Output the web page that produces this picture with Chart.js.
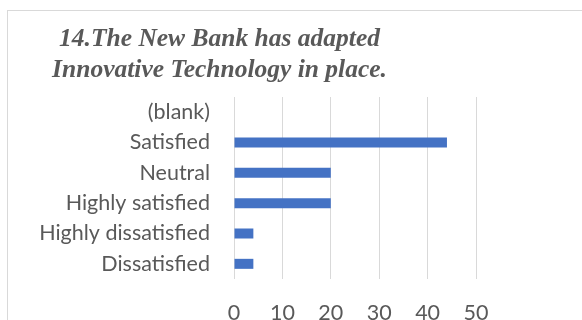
<!DOCTYPE html>
<html>
<head>
<meta charset="utf-8">
<script src="https://cdn.jsdelivr.net/npm/chart.js@4"></script>
<style>
  html, body { margin: 0; padding: 0; background: #fff; }
  #frame {
    position: absolute; left: 7px; top: 10px;
    width: 640px; height: 360px;
    border: 1px solid #d9d9d9;
  }
  #wrap { position: absolute; left: 0; top: 0; width: 582px; height: 320px; }
</style>
</head>
<body>
<div id="frame"></div>
<div id="wrap"><canvas id="barChart" width="582" height="320"></canvas></div>
<script>
// survey answers, top row first
const categories = ['(blank)', 'Satisfied', 'Neutral', 'Highly satisfied', 'Highly dissatisfied', 'Dissatisfied'];
const responses = [0, 44, 20, 20, 4, 4];
const xTicks = [0, 10, 20, 30, 40, 50];
const titleLines = ['14.The New Bank has adapted', 'Innovative Technology in place.'];

const textGrey = '#595959';
const labelFont = { family: 'Lato', size: 21.5 };

// Word-style title, centred over the left part of the frame
const titleText = {
    id: 'titleText',
    afterDraw(chart) {
        const ctx = chart.ctx;
        ctx.save();
        ctx.font = 'italic bold 25.5px "Liberation Serif"';
        ctx.fillStyle = textGrey;
        ctx.textAlign = 'center';
        ctx.textBaseline = 'alphabetic';
        ctx.fillText(titleLines[0], 219.5, 46);
        ctx.fillText(titleLines[1], 219.5, 76.5);
        ctx.restore();
    }
};

const ctx = document.getElementById('barChart').getContext('2d');

new Chart(ctx, {
    type: 'bar',
    data: {
        labels: categories,
        datasets: [{
            data: responses,
            backgroundColor: '#4472c4',
            categoryPercentage: 1,
            barPercentage: 0.33
        }]
    },
    options: {
        indexAxis: 'y',
        responsive: false,
        animation: false,
        layout: {
            padding: { left: 0, top: 97, right: 106, bottom: 0 }
        },
        plugins: {
            legend: { display: false },
            title: { display: false },
            tooltip: { enabled: false }
        },
        scales: {
            x: {
                min: 0,
                max: 50,
                afterBuildTicks: (scale) => {
                    scale.ticks = xTicks.map(v => ({ value: v }));
                },
                afterFit: (scale) => { scale.height = 41; },
                grid: { color: '#d9d9d9', lineWidth: 1, drawTicks: false },
                border: { display: false },
                ticks: { color: textGrey, font: labelFont, padding: 21 }
            },
            y: {
                afterFit: (scale) => { scale.width = 234; },
                grid: { display: false, drawTicks: false },
                border: { display: false },
                ticks: { color: textGrey, font: labelFont, padding: 24 }
            }
        }
    },
    plugins: [titleText]
});
</script>
</body>
</html>
